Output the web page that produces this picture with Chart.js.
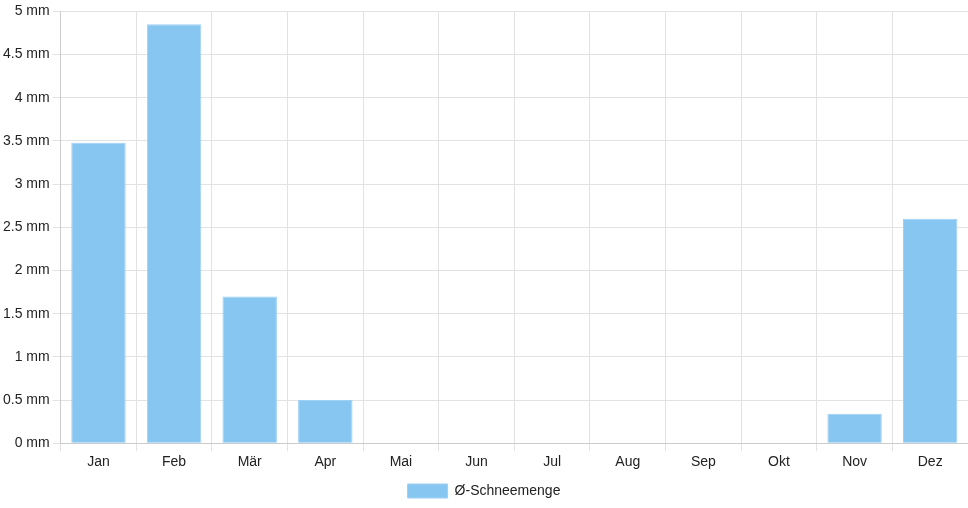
<!DOCTYPE html>
<html>
<head>
<meta charset="utf-8">
<script src="https://cdn.jsdelivr.net/npm/chart.js@4"></script>
<style>
  body { margin: 0; background: #fff; }
  #wrap { width: 968px; height: 508px; position: relative; }
</style>
</head>
<body>
<div id="wrap"><canvas id="snowChart"></canvas></div>
<script>
// Monthly data
const months = ['Jan', 'Feb', 'Mär', 'Apr', 'Mai', 'Jun', 'Jul', 'Aug', 'Sep', 'Okt', 'Nov', 'Dez'];
const snowAmount = [3.48, 4.85, 1.7, 0.5, 0, 0, 0, 0, 0, 0, 0.34, 2.6];
const seriesLabel = 'Ø-Schneemenge';

Chart.defaults.font.family = '"Liberation Sans", Arial, sans-serif';
Chart.defaults.font.size = 14;
Chart.defaults.color = '#222';

const snowCtx = document.getElementById('snowChart').getContext('2d');
const snowChart = new Chart(snowCtx, {
    type: 'bar',
    data: {
        labels: months,
        datasets: [{
            label: seriesLabel,
            data: snowAmount,
            backgroundColor: '#88c6f2',
            borderColor: '#9dd0f5',
            borderWidth: 1
        }]
    },
    options: {
        responsive: true,
        maintainAspectRatio: false,
        animation: false,
        layout: { padding: { top: 4 } },
        plugins: {
            legend: {
                position: 'bottom',
                labels: { boxWidth: 40, boxHeight: 14 }
            },
            tooltip: { enabled: false }
        },
        scales: {
            x: {
                grid: { color: '#e2e2e2' },
                ticks: { padding: 3 }
            },
            y: {
                min: 0,
                max: 5,
                ticks: {
                    stepSize: 0.5,
                    callback: v => v + ' mm'
                },
                grid: { color: '#e2e2e2' }
            }
        }
    }
});
</script>
</body>
</html>
